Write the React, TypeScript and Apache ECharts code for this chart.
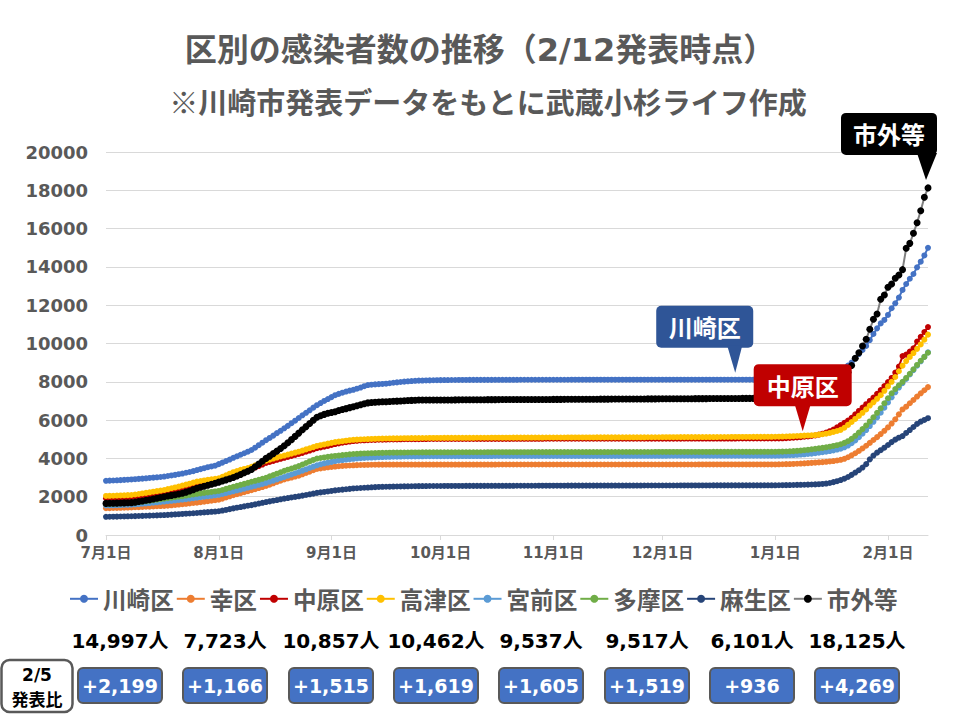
import React, { useEffect, useRef } from 'react';
import * as echarts from 'echarts';

// ---- Data (cumulative cases) ----
const SERIES_NAMES = ['川崎区', '幸区', '中原区', '高津区', '宮前区', '多摩区', '麻生区', '市外等'];
const COLORS = ['#4472C4', '#ED7D31', '#C00000', '#FFC000', '#5B9BD5', '#70AD47', '#264478', '#000000'];

// months shown on the axis: [month, days]
const MONTHS: [number, number][] = [[7, 31], [8, 31], [9, 30], [10, 31], [11, 30], [12, 31], [1, 31], [2, 12]];

const TOTALS = [14997, 7723, 10857, 10462, 9537, 9517, 6101, 18125];
const DIFFS = [2199, 1166, 1515, 1619, 1605, 1519, 936, 4269];

const kawasaki = [
  // Jul
  2830, 2838, 2846, 2855, 2866, 2878, 2889, 2900, 2915, 2930, 2945, 2960, 2978, 2995, 3012, 3030, 3050, 3080, 3110, 3140, 3175, 3210, 3250, 3290, 3335, 3390, 3440, 3490, 3540, 3580, 3620,
  // Aug
  3700, 3780, 3860, 3940, 4030, 4110, 4190, 4270, 4350, 4440, 4560, 4690, 4820, 4950, 5070, 5190, 5320, 5440, 5570, 5700, 5840, 5970, 6110, 6250, 6380, 6510, 6650, 6780, 6890, 7000, 7100,
  // Sep
  7200, 7300, 7370, 7430, 7490, 7540, 7580, 7640, 7700, 7770, 7830, 7850, 7865, 7880, 7890, 7900, 7925, 7950, 7970, 7990, 8010, 8025, 8040, 8050, 8060, 8065, 8070, 8075, 8080, 8085,
  // Oct
  8088, 8090, 8092, 8094, 8095, 8096, 8097, 8098, 8099, 8100, 8100, 8101, 8101, 8102, 8102, 8103, 8103, 8104, 8104, 8105, 8105, 8105, 8106, 8106, 8106, 8107, 8107, 8107, 8108, 8108, 8108,
  // Nov
  8108, 8108, 8108, 8108, 8108, 8109, 8109, 8109, 8109, 8109,
  8109, 8109, 8109, 8109, 8109, 8109, 8109, 8109, 8109, 8109,
  8110, 8110, 8110, 8110, 8110, 8110, 8110, 8110, 8110, 8110,
  // Dec
  8110, 8110, 8110, 8110, 8110, 8110, 8110, 8110, 8110, 8110,
  8110, 8110, 8110, 8110, 8110, 8110, 8110, 8110, 8110, 8110,
  8110, 8110, 8110, 8110, 8110, 8110, 8110, 8110, 8110, 8110, 8110,
  // Jan
  8110, 8110, 8110, 8110, 8110, 8110, 8110, 8110, 8110, 8110, 8110, 8110,
  8150, 8200, 8260, 8330, 8410, 8500, 8600, 8720, 8850, 9000, 9230, 9450, 9660, 9870, 10180, 10500, 10790, 11050, 11230,
  // Feb
  11490, 11840, 12100, 12400, 12798, 13107, 13380, 13630, 13978, 14273, 14600, 14997,
];

const saiwai = [
  1400, 1405, 1410, 1415, 1420, 1426, 1432, 1440, 1448, 1456, 1465, 1474, 1483, 1492, 1501, 1510, 1520, 1535, 1552, 1570, 1590, 1610, 1630, 1650, 1670, 1690, 1715, 1740, 1765, 1790, 1815,
  1840, 1900, 1960, 2020, 2080, 2130, 2180, 2235, 2290, 2340, 2395, 2450, 2505, 2560, 2630, 2700, 2770, 2835, 2900, 2950, 3000, 3050, 3100, 3170, 3240, 3310, 3380, 3450, 3480, 3510, 3535,
  3555, 3575, 3590, 3605, 3618, 3630, 3640, 3648, 3655, 3660, 3664, 3668, 3671, 3674, 3676, 3678, 3680, 3680, 3680, 3680,
  3680, 3680, 3680, 3680, 3680, 3680, 3680, 3680, 3680, 3680,
  // Oct
  3680, 3680, 3680, 3680, 3680, 3680, 3680, 3680, 3680, 3680, 3680, 3680, 3680, 3680, 3680, 3680,
  3681, 3681, 3681, 3681, 3681, 3681, 3681, 3681, 3681, 3681, 3681, 3681, 3681, 3681, 3681,
  // Nov
  3681, 3681, 3681, 3681, 3681, 3681, 3681, 3681, 3681, 3681, 3681, 3681, 3681, 3681, 3681,
  3682, 3682, 3682, 3682, 3682, 3682, 3682, 3682, 3682, 3682, 3682, 3682, 3682, 3682, 3682,
  // Dec
  3682, 3682, 3682, 3682, 3682, 3682, 3682, 3682, 3682, 3682,
  3683, 3683, 3683, 3683, 3683, 3683, 3683, 3683, 3683, 3683, 3683,
  3684, 3684, 3684, 3684, 3684, 3684, 3684, 3684, 3684, 3684,
  // Jan
  3685, 3690, 3695, 3700, 3705, 3712, 3720, 3730, 3740, 3752, 3765, 3778, 3792, 3806, 3822, 3840, 3862, 3890, 3925, 3980, 4060, 4160, 4270, 4390, 4520, 4660, 4810, 4960, 5110, 5270, 5440,
  // Feb
  5620, 5820, 6040, 6300, 6557, 6700, 6880, 7050, 7230, 7400, 7560, 7723,
];

const nakahara = [
  1920, 1925, 1930, 1938, 1946, 1954, 1962, 1970, 1995, 2020, 2050, 2080, 2110, 2140, 2170, 2200, 2230, 2275, 2320, 2365, 2410, 2460, 2510, 2560, 2615, 2670, 2700, 2730, 2760, 2785, 2810,
  2840, 2920, 3000, 3080, 3160, 3220, 3280, 3330, 3380, 3440, 3520, 3600, 3680, 3760, 3815, 3870, 3925, 3980, 4030, 4080, 4130, 4180, 4230, 4290, 4350, 4410, 4470, 4530, 4570, 4610, 4650,
  4700, 4750, 4785, 4820, 4850, 4880, 4905, 4920, 4935, 4945, 4955, 4962, 4968, 4974, 4980, 4985, 4988, 4991, 4994, 4997, 5000, 5002, 5004, 5006, 5008, 5010, 5011, 5012, 5013, 5015,
  5015, 5015, 5016, 5016, 5016, 5017, 5017, 5017, 5018, 5018, 5018, 5019, 5019, 5019, 5020, 5020, 5020, 5021, 5021, 5021, 5022, 5022, 5022, 5023, 5023, 5023, 5024, 5024, 5024, 5025, 5025,
  5025, 5025, 5026, 5026, 5026, 5027, 5027, 5027, 5028, 5028, 5028, 5029, 5029, 5029, 5030, 5030, 5030, 5030, 5031, 5031, 5031, 5031, 5032, 5032, 5032, 5032, 5033, 5033, 5033, 5033,
  5033, 5033, 5034, 5034, 5034, 5034, 5035, 5035, 5035, 5035, 5035, 5036, 5036, 5036, 5036, 5036, 5037, 5037, 5037, 5037, 5037, 5038, 5038, 5038, 5038, 5038, 5039, 5039, 5039, 5039, 5040,
  5040, 5045, 5050, 5060, 5070, 5080, 5095, 5110, 5130, 5150, 5170, 5200, 5240, 5290, 5350, 5420, 5510, 5620, 5740, 5860, 5980, 6120, 6300, 6480, 6650, 6830, 7000, 7180, 7370, 7570, 7780,
  7990, 8200, 8480, 8800, 9342, 9420, 9580, 9750, 10100, 10350, 10600, 10857,
];

const takatsu = [
  2040, 2045, 2050, 2058, 2066, 2074, 2082, 2090, 2115, 2140, 2170, 2200, 2230, 2260, 2290, 2320, 2350, 2395, 2440, 2485, 2530, 2580, 2630, 2680, 2735, 2790, 2820, 2850, 2880, 2905, 2930,
  2960, 3040, 3120, 3200, 3280, 3340, 3400, 3450, 3500, 3560, 3640, 3720, 3800, 3880, 3935, 3990, 4045, 4100, 4150, 4200, 4250, 4300, 4350, 4410, 4470, 4530, 4590, 4650, 4690, 4730, 4770,
  4810, 4850, 4875, 4900, 4925, 4950, 4970, 4980, 4990, 5000, 5008, 5015, 5022, 5030, 5035, 5040, 5043, 5046, 5049, 5052, 5055, 5057, 5059, 5061, 5063, 5065, 5066, 5067, 5068, 5070,
  5070, 5071, 5072, 5072, 5073, 5074, 5074, 5075, 5076, 5076, 5077, 5078, 5078, 5079, 5080, 5080, 5081, 5082, 5082, 5083, 5084, 5084, 5085, 5086, 5086, 5087, 5088, 5088, 5089, 5090, 5090,
  5091, 5091, 5092, 5092, 5093, 5093, 5094, 5094, 5095, 5095, 5096, 5096, 5097, 5097, 5098, 5098, 5099, 5099, 5100, 5100, 5101, 5101, 5102, 5102, 5103, 5103, 5104, 5104, 5105, 5105,
  5106, 5107, 5108, 5108, 5109, 5110, 5110, 5111, 5112, 5112, 5113, 5114, 5114, 5115, 5116, 5116, 5117, 5118, 5118, 5119, 5120, 5120, 5121, 5122, 5122, 5123, 5124, 5125, 5126, 5127, 5128,
  5130, 5135, 5140, 5145, 5150, 5160, 5170, 5180, 5190, 5200, 5210, 5220, 5240, 5260, 5290, 5330, 5380, 5430, 5490, 5600, 5750, 5900, 6060, 6220, 6380, 6560, 6760, 6930, 7110, 7300, 7530,
  7760, 8000, 8250, 8550, 8843, 9080, 9300, 9500, 9720, 9950, 10200, 10462,
];

const miyamae = [
  1540, 1545, 1550, 1556, 1562, 1568, 1575, 1582, 1598, 1615, 1632, 1650, 1668, 1687, 1706, 1725, 1745, 1765, 1785, 1805, 1828, 1851, 1874, 1898, 1922, 1947, 1972, 1997, 2022, 2047, 2072,
  2100, 2145, 2190, 2235, 2280, 2325, 2370, 2420, 2470, 2520, 2570, 2620, 2670, 2720, 2780, 2840, 2900, 2965, 3030, 3095, 3160, 3225, 3290, 3360, 3430, 3500, 3570, 3640, 3690, 3740, 3780,
  3820, 3860, 3890, 3915, 3940, 3960, 3980, 3995, 4010, 4022, 4034, 4045, 4055, 4063, 4070, 4076, 4082, 4087, 4091, 4095, 4098, 4101, 4104, 4106, 4108, 4110, 4112, 4114, 4116, 4118,
  4118, 4119, 4119, 4120, 4120, 4120, 4121, 4121, 4121, 4122, 4122, 4122, 4123, 4123, 4123, 4124, 4124, 4124, 4125, 4125, 4125, 4126, 4126, 4126, 4127, 4127, 4127, 4128, 4128, 4128, 4128,
  4129, 4129, 4129, 4129, 4130, 4130, 4130, 4130, 4131, 4131, 4131, 4131, 4132, 4132, 4132, 4132, 4133, 4133, 4133, 4133, 4134, 4134, 4134, 4134, 4135, 4135, 4135, 4135, 4136, 4136,
  4136, 4136, 4137, 4137, 4137, 4137, 4138, 4138, 4138, 4138, 4139, 4139, 4139, 4139, 4140, 4140, 4140, 4140, 4141, 4141, 4141, 4141, 4142, 4142, 4142, 4142, 4143, 4143, 4143, 4143, 4144,
  4145, 4150, 4155, 4160, 4168, 4176, 4188, 4200, 4215, 4230, 4250, 4270, 4295, 4320, 4350, 4385, 4420, 4460, 4510, 4580, 4670, 4790, 4940, 5110, 5290, 5480, 5690, 5910, 6140, 6390, 6650,
  6920, 7190, 7450, 7700, 7932, 8150, 8380, 8610, 8840, 9070, 9300, 9537,
];

const tama = [
  1620, 1626, 1632, 1640, 1648, 1656, 1665, 1675, 1695, 1715, 1740, 1765, 1790, 1815, 1840, 1870, 1900, 1925, 1950, 1975, 2000, 2030, 2060, 2090, 2120, 2150, 2175, 2200, 2225, 2250, 2275,
  2300, 2350, 2410, 2465, 2520, 2570, 2620, 2670, 2725, 2780, 2830, 2880, 2935, 2990, 3060, 3130, 3200, 3275, 3350, 3410, 3470, 3535, 3600, 3680, 3760, 3840, 3920, 3990, 4020, 4050, 4080,
  4105, 4130, 4150, 4170, 4190, 4210, 4230, 4240, 4250, 4258, 4265, 4272, 4278, 4284, 4290, 4294, 4297, 4300, 4302, 4304, 4306, 4308, 4310, 4311, 4312, 4313, 4314, 4315, 4316, 4317,
  4317, 4318, 4318, 4319, 4319, 4320, 4320, 4321, 4321, 4321, 4322, 4322, 4322, 4323, 4323, 4323, 4324, 4324, 4324, 4325, 4325, 4325, 4326, 4326, 4326, 4327, 4327, 4327, 4328, 4328, 4328,
  4328, 4329, 4329, 4329, 4330, 4330, 4330, 4330, 4331, 4331, 4331, 4331, 4332, 4332, 4332, 4332, 4333, 4333, 4333, 4333, 4334, 4334, 4334, 4334, 4335, 4335, 4335, 4335, 4336, 4336,
  4336, 4336, 4337, 4337, 4337, 4337, 4338, 4338, 4338, 4338, 4339, 4339, 4339, 4339, 4340, 4340, 4340, 4340, 4341, 4341, 4341, 4341, 4342, 4342, 4342, 4342, 4343, 4343, 4343, 4343, 4344,
  4345, 4350, 4355, 4360, 4370, 4380, 4395, 4410, 4430, 4450, 4475, 4500, 4525, 4550, 4580, 4610, 4650, 4690, 4740, 4810, 4900, 5020, 5180, 5350, 5530, 5720, 5930, 6150, 6380, 6620, 6880,
  7140, 7400, 7620, 7820, 7998, 8200, 8420, 8650, 8880, 9100, 9300, 9517,
];

const asao = [
  950, 953, 957, 961, 965, 970, 975, 980, 986, 992, 998, 1005, 1012, 1019, 1026, 1033, 1040, 1052, 1064, 1076, 1088, 1100, 1112, 1124, 1137, 1150, 1165, 1180, 1195, 1210, 1225,
  1240, 1275, 1310, 1350, 1390, 1425, 1460, 1495, 1530, 1560, 1600, 1640, 1680, 1720, 1755, 1790, 1825, 1862, 1900, 1930, 1960, 1990, 2020, 2055, 2090, 2125, 2160, 2200, 2225, 2250, 2275,
  2300, 2330, 2350, 2370, 2390, 2410, 2430, 2442, 2454, 2466, 2478, 2490, 2500, 2508, 2515, 2520, 2524, 2528, 2532, 2536, 2540, 2543, 2546, 2549, 2552, 2554, 2556, 2558, 2559, 2560,
  2560, 2561, 2561, 2562, 2562, 2563, 2563, 2564, 2564, 2565, 2565, 2566, 2566, 2567, 2567, 2568, 2568, 2569, 2569, 2570, 2570, 2571, 2571, 2572, 2572, 2573, 2573, 2574, 2574, 2575, 2575,
  2575, 2576, 2576, 2576, 2577, 2577, 2577, 2578, 2578, 2578, 2579, 2579, 2579, 2580, 2580, 2580, 2581, 2581, 2581, 2582, 2582, 2582, 2583, 2583, 2583, 2584, 2584, 2584, 2585, 2585,
  2585, 2585, 2586, 2586, 2586, 2587, 2587, 2587, 2588, 2588, 2588, 2589, 2589, 2589, 2590, 2590, 2590, 2591, 2591, 2591, 2592, 2592, 2592, 2592, 2593, 2593, 2593, 2593, 2594, 2594, 2594,
  2595, 2598, 2601, 2604, 2608, 2612, 2616, 2620, 2625, 2630, 2636, 2643, 2652, 2665, 2685, 2715, 2760, 2810, 2870, 2940, 3030, 3140, 3260, 3380, 3520, 3700, 3950, 4150, 4300, 4430, 4560,
  4700, 4850, 4980, 5080, 5165, 5330, 5480, 5640, 5800, 5920, 6010, 6101,
];

const shigai = [
  1650, 1655, 1660, 1666, 1672, 1678, 1684, 1690, 1715, 1745, 1775, 1810, 1845, 1880, 1920, 1960, 2000, 2035, 2070, 2105, 2140, 2180, 2240, 2300, 2370, 2440, 2490, 2545, 2600, 2650, 2700,
  2760, 2820, 2880, 2940, 3000, 3080, 3160, 3250, 3330, 3420, 3560, 3700, 3850, 4000, 4120, 4250, 4380, 4520, 4660, 4820, 4980, 5150, 5320, 5500, 5660, 5820, 5990, 6150, 6230, 6300, 6360,
  6400, 6440, 6500, 6550, 6600, 6650, 6700, 6750, 6800, 6850, 6900, 6915, 6930, 6945, 6955, 6960, 6970, 6980, 6990, 7000, 7010, 7020, 7030, 7040, 7045, 7050, 7050, 7050, 7050, 7050,
  7050, 7050, 7052, 7054, 7056, 7058, 7060, 7062, 7063, 7064, 7065, 7066, 7067, 7068, 7069, 7070, 7071, 7072, 7073, 7074, 7075, 7076, 7077, 7078, 7078, 7079, 7079, 7080, 7080, 7080, 7080,
  7081, 7082, 7083, 7084, 7085, 7086, 7087, 7088, 7089, 7090, 7091, 7092, 7093, 7094, 7095, 7096, 7097, 7098, 7099, 7100, 7101, 7102, 7103, 7104, 7105, 7106, 7107, 7108, 7109, 7110,
  7111, 7112, 7113, 7114, 7115, 7116, 7117, 7118, 7119, 7120, 7121, 7122, 7123, 7124, 7125, 7126, 7127, 7128, 7129, 7130, 7131, 7132, 7133, 7134, 7135, 7136, 7137, 7138, 7139, 7140, 7140,
  7140, 7140, 7141, 7142, 7143, 7144, 7145, 7146, 7148, 7150, 7200, 7260, 7340, 7430, 7540, 7670, 7810, 7960, 8130, 8310, 8500, 8850, 9227, 9520, 9870, 10220, 10742, 11264, 11540, 12308, 12533,
  12935, 13107, 13405, 13577, 13856, 14970, 15230, 15755, 16310, 16935, 17635, 18125,
];

const SERIES_DATA = [kawasaki, saiwai, nakahara, takatsu, miyamae, tama, asao, shigai];

const DATES: string[] = [];
for (const [m, n] of MONTHS) for (let d = 1; d <= n; d++) DATES.push(`${m}月${d}日`);

// callouts: series index, category (date) the pointer sits on, fill
const CALLOUTS = [
  { label: '川崎区', series: 0, date: '12月21日', fill: '#2F5597', dx: 0, dy: -7, left: -79, right: 18, bl: -8, br: 7 },
  { label: '中原区', series: 2, date: '1月8日', fill: '#C00000', dx: 2, dy: -6, left: -49, right: 49, bl: -8, br: 8 },
  { label: '市外等', series: 7, date: '2月12日', fill: '#000000', dx: -2, dy: -8, left: -85, right: 11, bl: -9, br: 11 },
];

const NUM = '"DejaVu Sans", "Noto Sans CJK JP", sans-serif';
const JP = '"Noto Sans CJK JP", sans-serif';
const GRAY = '#595959';
const COL_X = [120, 225, 331, 436, 541, 647, 752, 857];

const isMonthStart = (_i: number, v: string) => /月1日$/.test(v);

export default function App() {
  const ref = useRef<HTMLDivElement>(null);
  useEffect(() => {
    const chart = echarts.init(ref.current as HTMLDivElement, null, { renderer: 'svg' });
    const series = SERIES_NAMES.map((name, i) => ({
      name,
      type: 'line',
      data: SERIES_DATA[i],
      symbol: 'circle',
      symbolSize: i === 7 ? 7 : 6,
      showAllSymbol: true,
      silent: true,
      itemStyle: { color: COLORS[i] },
      lineStyle: { color: i === 7 ? '#808080' : COLORS[i], width: 2 },
      emphasis: { disabled: true },
    }));
    chart.setOption({
      animation: false,
      backgroundColor: '#ffffff',
      grid: { left: 106, right: 32, top: 152, bottom: 185 },
      xAxis: {
        type: 'category',
        data: DATES,
        boundaryGap: false,
        axisLine: { lineStyle: { color: '#D9D9D9', width: 1 } },
        axisTick: { interval: isMonthStart, length: 5, lineStyle: { color: '#D9D9D9' } },
        axisLabel: { interval: isMonthStart, color: GRAY, fontSize: 15, fontWeight: 'bold', fontFamily: NUM, margin: 10 },
        splitLine: { show: false },
      },
      yAxis: {
        type: 'value',
        min: 0,
        max: 20000,
        interval: 2000,
        axisLine: { show: false },
        axisTick: { show: false },
        axisLabel: { color: GRAY, fontSize: 18, fontWeight: 'bold', fontFamily: NUM, margin: 18, formatter: (v: number) => String(v) },
        splitLine: { lineStyle: { color: '#D9D9D9', width: 1 } },
      },
      legend: {
        data: SERIES_NAMES,
        top: 582,
        left: 64,
        itemWidth: 28,
        itemHeight: 10,
        itemGap: 2,
        selectedMode: false,
        textStyle: { color: GRAY, fontSize: 23.6, fontWeight: 'bold', fontFamily: JP },
      },
      series,
    });

    const g: any[] = [];
    g.push({ type: 'text', x: 480, y: 50, style: { text: '区別の感染者数の推移（2/12発表時点）', font: `bold 32px ${NUM}`, fill: GRAY, align: 'center', verticalAlign: 'middle' } });
    g.push({ type: 'text', x: 488, y: 101, style: { text: '※川崎市発表データをもとに武蔵小杉ライフ作成', font: `bold 29px ${JP}`, fill: GRAY, align: 'center', verticalAlign: 'middle' } });

    CALLOUTS.forEach((c) => {
      const idx = DATES.indexOf(c.date);
      const p = chart.convertToPixel({ seriesIndex: c.series }, [idx, SERIES_DATA[c.series][idx]]) as number[];
      const tx = p[0] + c.dx;
      const ty = p[1] + c.dy;
      g.push({ type: 'rect', shape: { x: tx + c.left, y: ty - 67, width: c.right - c.left, height: 42, r: 5 }, style: { fill: c.fill }, z: 100 });
      g.push({ type: 'polygon', shape: { points: [[tx + c.bl, ty - 27], [tx + c.br, ty - 27], [tx, ty]] }, style: { fill: c.fill }, z: 100 });
      g.push({ type: 'text', x: tx + (c.left + c.right) / 2, y: ty - 46, style: { text: c.label, font: `bold 24px ${JP}`, fill: '#ffffff', align: 'center', verticalAlign: 'middle' }, z: 101 });
    });

    COL_X.forEach((x, i) => {
      g.push({ type: 'text', x, y: 641, style: { text: `${TOTALS[i].toLocaleString('en-US')}人`, font: `bold 20px ${NUM}`, fill: '#000000', align: 'center', verticalAlign: 'middle' } });
      g.push({ type: 'rect', shape: { x: x - 42, y: 668, width: 84, height: 35, r: 5 }, style: { fill: '#4472C4', stroke: GRAY, lineWidth: 2 } });
      g.push({ type: 'text', x, y: 686, style: { text: `+${DIFFS[i].toLocaleString('en-US')}`, font: `bold 19px ${NUM}`, fill: '#ffffff', align: 'center', verticalAlign: 'middle' } });
    });

    g.push({ type: 'rect', shape: { x: 1.5, y: 660, width: 71, height: 52, r: 8 }, style: { fill: '#ffffff', stroke: GRAY, lineWidth: 2.5 } });
    g.push({ type: 'text', x: 37, y: 675, style: { text: '2/5', font: `bold 17px ${NUM}`, fill: '#000000', align: 'center', verticalAlign: 'middle' } });
    g.push({ type: 'text', x: 37, y: 698, style: { text: '発表比', font: `bold 17px ${JP}`, fill: '#000000', align: 'center', verticalAlign: 'middle' } });

    chart.setOption({ graphic: g });
    return () => chart.dispose();
  }, []);
  return <div ref={ref} style={{ position: 'fixed', left: 0, top: 0, width: 960, height: 720 }} />;
}
